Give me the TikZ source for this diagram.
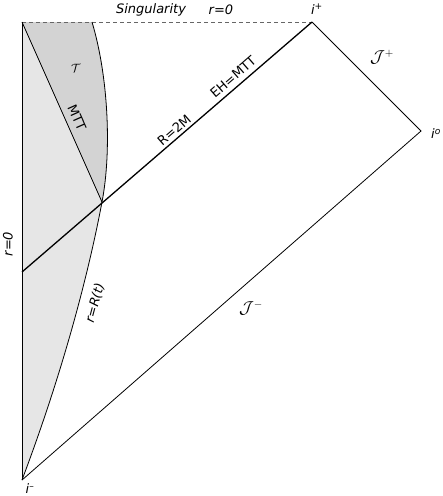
\documentclass[tikz,border=0pt]{standalone}
\usepackage{fontspec}
\setmainfont{DejaVu Sans}
\definecolor{lightfill}{HTML}{E6E6E6}
\definecolor{darkfill}{HTML}{D3D3D3}
\tikzset{
  thin line/.style={line width=0.8pt, black},
  horizon/.style={line width=1.3pt, black},
  sing/.style={line width=0.8pt, gray!80!black, dash pattern=on 4pt off 3pt},
  lab/.style={font=\fontsize{13}{15}\selectfont, inner sep=0pt},
  scrlab/.style={font=\fontsize{16}{18}\selectfont, inner sep=0pt},
}
\begin{document}
\begin{tikzpicture}[x=1pt,y=-1pt]
\useasboundingbox (0,0) rectangle (443,496);
\coordinate (tl) at (22,22);
\coordinate (ip) at (312,22);
\coordinate (io) at (421,131);
\coordinate (im) at (22,480);
\coordinate (hl) at (22,272);
\coordinate (x) at (102,202);
\coordinate (st) at (92,22);
% fills
\fill[lightfill] (tl) -- (st) .. controls (108,75) and (112,150) .. (x)
  .. controls (85,292) and (56,390) .. (im) -- cycle;
\fill[darkfill] (tl) -- (st) .. controls (108,75) and (112,150) .. (x) -- cycle;
% lines
\draw[sing] (tl) -- (ip);
\draw[thin line] (tl) -- (im);
\draw[thin line] (ip) -- (io) -- (im);
\draw[thin line] (tl) -- (x);
\draw[thin line] (st) .. controls (108,75) and (112,150) .. (x)
  .. controls (85,292) and (56,390) .. (im);
\draw[horizon] (hl) -- (ip);
% labels
\node[lab] (lsing) at (151,10) {\itshape Singularity};
\node[lab] (lr0t) at (221,10) {\itshape r=0};
\node[lab] (lip) at (317,9) {\itshape i\textsuperscript{+}};
\node[lab] (lio) at (436,134) {\itshape i\textsuperscript{o}};
\node[lab] (lim) at (30,489) {\itshape i\textsuperscript{\textendash}};
\node[scrlab] (lscp) at (382,57) {$\mathcal{J}^{+}$};
\node[scrlab] (lscm) at (251,308) {$\mathcal{J}^{-}$};
\node[lab] (ltt) at (76,68) {$\mathcal{T}$};
\node[lab, rotate=-66] (lmtt) at (77,118) {MTT};
\node[lab, rotate=41] (lr2m) at (174,130) {R=2M};
\node[lab, rotate=41] (leh) at (233,77) {EH=MTT};
\node[lab, rotate=90] (lr0l) at (8,244) {\itshape r=0};
\node[lab, rotate=75] (lrt) at (95,303) {\itshape r=R(t)};
\end{tikzpicture}
\end{document}
